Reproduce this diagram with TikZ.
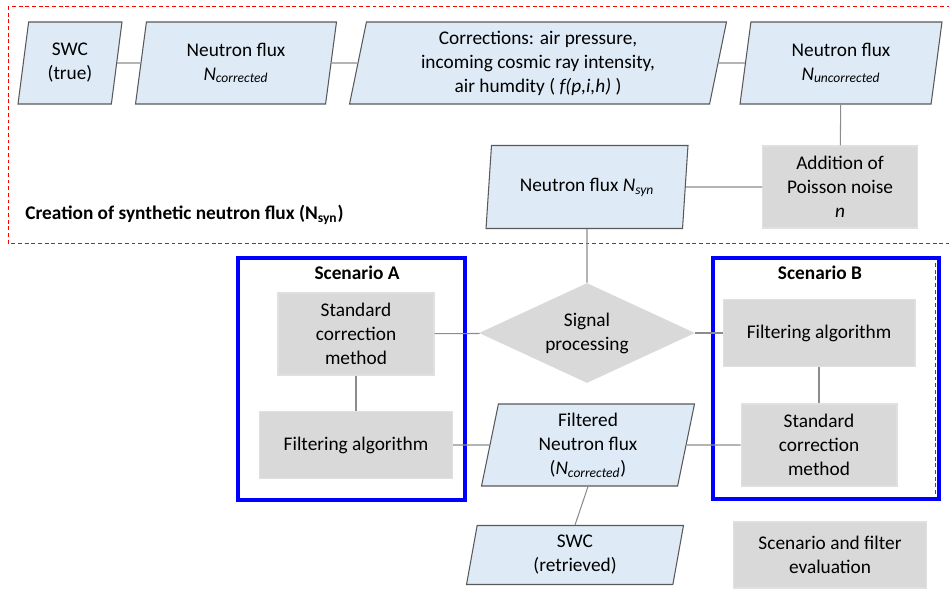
\documentclass[tikz,border=0pt]{standalone}
\usepackage{fontspec}
\setmainfont{Carlito}
\usetikzlibrary{positioning,shapes.geometric,calc}

\definecolor{boxblue}{HTML}{DEEBF7}
\definecolor{boxgray}{HTML}{D9D9D9}
\definecolor{edgegray}{HTML}{595959}
\definecolor{linegray}{HTML}{8C8C8C}
\newcommand{\Nsub}[1]{\textit{N}\textsubscript{\textit{#1}}}

\begin{document}
\begin{tikzpicture}[x=0.02cm,y=-0.02cm,
  font=\fontsize{11}{13.6}\selectfont,
  io/.style={trapezium,trapezium left angle=76,trapezium right angle=104,
    trapezium stretches body,draw=edgegray,line width=0.6pt,fill=boxblue,
    align=center,inner sep=1pt,minimum height=1.64cm},
  proc/.style={rectangle,draw=white!88!black,line width=0.6pt,fill=boxgray,
    align=center,inner sep=1pt},
  dec/.style={diamond,fill=boxgray,align=center,inner sep=0pt,aspect=2.16,
    minimum width=4.32cm,minimum height=2cm},
  ln/.style={draw=linegray,line width=0.6pt},
  frame/.style={draw=red,dashed,dash pattern=on 2.2pt off 1.6pt,line width=0.5pt},
  scen/.style={draw=blue,line width=1.8pt},
  ttl/.style={font=\fontsize{11}{13.6}\selectfont\bfseries}]
  \useasboundingbox (0,0) rectangle (949,589);

  % dashed frames
  \draw[frame] (8,6) rectangle (960,243);
  \draw[frame] (236,256) rectangle (466,500);
  \draw[frame] (711,256) rectangle (935,500);
  \draw[scen] (238,258) rectangle (465,500);
  \draw[scen] (713,258) rectangle (939,499);
  \node[ttl,anchor=west,inner sep=0pt] (lbl) at (25,215) {Creation of synthetic neutron flux (N\textsubscript{syn})};
  \node[ttl] (scA) at (357,273) {Scenario A};
  \node[ttl] (scB) at (820,273) {Scenario B};

  % synthetic flux chain
  \node[io,minimum width=2.08cm] (swct) at (70,63) {SWC\\(true)};
  \node[io,minimum width=4.02cm] (ncorr) at (236,63) {Neutron flux\\\Nsub{corrected}};
  \node[io,minimum width=7.54cm] (corr) at (538,63) {Corrections: air pressure,\\incoming cosmic ray intensity,\\air humdity ( \textit{f(p,i,h)} )};
  \node[io,minimum width=4.04cm] (nunc) at (841,63) {Neutron flux\\\Nsub{uncorrected}};
  \node[proc,minimum width=3.1cm,minimum height=1.64cm] (noise) at (840,187) {Addition of\\Poisson noise\\\textit{n}};
  \node[io,minimum width=4.04cm,minimum height=1.66cm] (nsyn) at (587,187) {Neutron flux \Nsub{syn}};

  % processing
  \node[dec] (sig) at (587,333) {Signal\\processing};
  \node[proc,minimum width=3.12cm,minimum height=1.64cm] (stdA) at (356,334) {Standard\\correction\\method};
  \node[proc,minimum width=3.86cm,minimum height=1.34cm] (filtA) at (356,445) {Filtering algorithm};
  \node[proc,minimum width=3.84cm,minimum height=1.34cm] (filtB) at (819,333) {Filtering algorithm};
  \node[proc,minimum width=3.12cm,minimum height=1.64cm] (stdB) at (819,445) {Standard\\correction\\method};
  \node[io,minimum width=4.26cm] (filt) at (588,445) {Filtered\\Neutron flux\\(\Nsub{corrected})};
  \node[io,minimum width=4.34cm,minimum height=1.18cm] (swcr) at (575,555) {SWC\\(retrieved)};
  \node[proc,minimum width=3.86cm,minimum height=1.32cm] (eval) at (830,555) {Scenario and filter\\evaluation};

  % connectors
  \draw[ln] (swct) -- (ncorr);
  \draw[ln] (ncorr) -- (corr);
  \draw[ln] (corr) -- (nunc);
  \draw[ln] (nunc) -- (noise);
  \draw[ln] (noise) -- (nsyn);
  \draw[ln] (nsyn) -- (sig);
  \draw[ln] (sig) -- (stdA);
  \draw[ln] (sig) -- (filtB);
  \draw[ln] (stdA) -- (filtA);
  \draw[ln] (filtB) -- (stdB);
  \draw[ln] (filtA) -- (filt);
  \draw[ln] (filt) -- (stdB);
  \draw[ln] (filt.south) -- (swcr.north);
\end{tikzpicture}
\end{document}
